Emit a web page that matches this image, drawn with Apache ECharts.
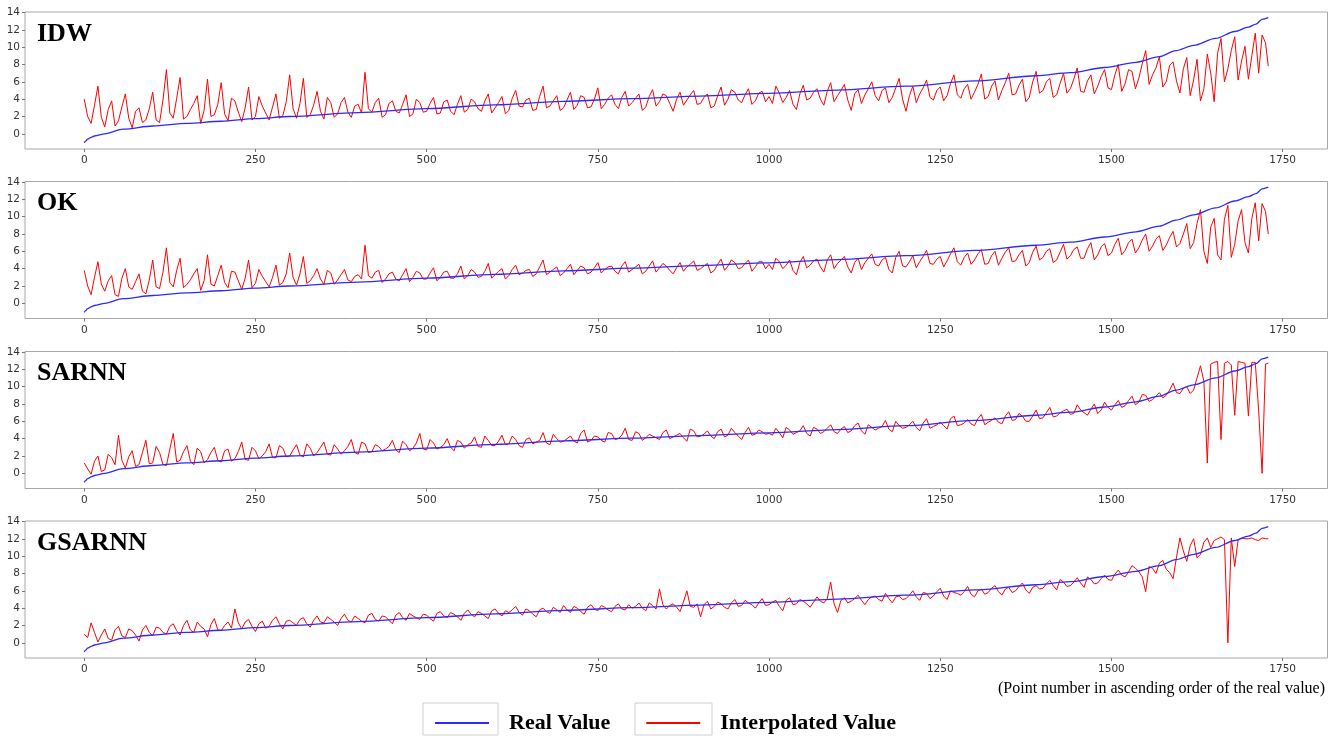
<!DOCTYPE html>
<html>
<head>
<meta charset="utf-8">
<script src="https://cdn.jsdelivr.net/npm/echarts@6/dist/echarts.min.js"></script>
<style>
html,body{margin:0;padding:0;background:#fff;}
#chart{width:1337px;height:738px;}
</style>
</head>
<body>
<div id="chart"></div>
<script>
// ---------- DATA ----------
const panelNames = ['IDW', 'OK', 'SARNN', 'GSARNN'];
const xTicks = [0, 250, 500, 750, 1000, 1250, 1500, 1750];
const yTicks = [0, 2, 4, 6, 8, 10, 12, 14];

// real value curve (sorted ascending), point number -> value
const realX   = [0, 2, 5, 10, 15, 30, 57, 100, 150, 200, 250, 300, 400, 500, 600, 700, 800, 900, 1000, 1100, 1200, 1300, 1390, 1440, 1490, 1536, 1570, 1594, 1620, 1652, 1680, 1700, 1711, 1720, 1729];
const realVal = [-1.05, -0.85, -0.6, -0.4, -0.25, 0.0, 0.55, 0.9, 1.2, 1.45, 1.75, 2.0, 2.45, 2.9, 3.35, 3.75, 4.05, 4.35, 4.67, 5.05, 5.5, 6.1, 6.7, 7.05, 7.65, 8.25, 8.9, 9.6, 10.2, 11.0, 11.8, 12.3, 12.65, 13.2, 13.4];

// interpolated values read at points 0,10,20,...,1720 and 1729
const idwVal = [
 4.0, 1.2, 5.5, 0.8, 3.8, 1.5, 4.6, 0.7, 3.0, 1.6,
 4.8, 1.3, 7.4, 1.8, 6.5, 2.0, 3.5, 1.2, 6.3, 2.2,
 5.9, 1.5, 3.8, 1.4, 5.4, 2.0, 3.2, 1.6, 4.6, 2.1,
 6.8, 1.8, 6.4, 2.2, 4.9, 1.7, 3.6, 2.3, 4.2, 1.9,
 3.4, 7.1, 2.5, 4.1, 2.2, 3.8, 2.4, 4.5, 2.3, 3.6,
 2.6, 4.2, 2.4, 3.9, 2.2, 4.4, 2.8, 3.7, 2.6, 4.6,
 3.0, 4.3, 2.7, 5.0, 3.1, 4.1, 2.8, 5.5, 3.2, 4.4,
 3.0, 4.8, 3.3, 4.2, 3.1, 5.3, 3.4, 4.5, 2.9, 4.9,
 3.6, 4.6, 3.1, 5.1, 3.7, 4.4, 2.6, 4.8, 3.9, 5.0,
 3.5, 4.6, 3.2, 5.4, 4.0, 4.8, 3.6, 5.2, 3.8, 4.9,
 4.3, 5.5, 3.6, 5.0, 2.8, 5.6, 4.1, 5.2, 3.3, 5.9,
 4.4, 5.7, 2.7, 5.1, 4.5, 6.0, 3.8, 5.3, 4.2, 6.4,
 2.6, 5.5, 4.6, 6.2, 3.9, 5.4, 4.4, 6.8, 4.1, 5.7,
 4.8, 6.9, 4.3, 6.1, 5.0, 7.0, 4.6, 6.3, 4.2, 7.2,
 5.0, 6.4, 4.5, 7.0, 5.2, 7.6, 4.8, 6.8, 5.5, 7.4,
 5.1, 8.0, 5.8, 7.2, 6.4, 9.6, 6.8, 8.9, 6.0, 8.3,
 4.7, 8.8, 6.2, 3.8, 9.2, 3.7, 11.0, 7.5, 11.2, 8.4,
 6.3, 11.6, 11.4, 7.8
];
// interpolated values read at points 5,15,25,...,1725
const idwMid = [
 2.0, 3.3, 1.9, 2.8, 0.9, 3.1, 1.8, 2.6, 1.3, 2.9,
 1.6, 3.9, 2.4, 4.1, 1.7, 2.8, 4.4, 2.7, 2.0, 3.4,
 2.3, 4.1, 2.5, 3.0, 1.6, 4.3, 2.4, 3.1, 1.8, 3.7,
 2.9, 3.5, 1.9, 3.3, 2.6, 4.2, 1.9, 3.6, 2.5, 3.2,
 2.4, 2.9, 3.6, 1.9, 3.5, 2.6, 3.4, 2.0, 4.0, 2.5,
 3.5, 2.3, 3.7, 2.6, 3.4, 2.5, 4.0, 2.9, 3.8, 2.4,
 3.6, 2.3, 4.1, 3.2, 3.9, 2.7, 4.3, 3.0, 3.8, 2.7,
 3.9, 2.8, 4.4, 3.0, 4.0, 2.9, 4.1, 3.4, 4.2, 3.2,
 4.1, 2.7, 4.3, 3.2, 4.6, 3.5, 4.0, 3.3, 4.5, 3.4,
 4.2, 3.0, 4.4, 3.3, 5.1, 3.9, 4.5, 3.4, 4.7, 3.7,
 3.5, 4.7, 4.2, 3.4, 4.6, 3.9, 4.8, 4.0, 4.9, 3.7,
 5.0, 3.9, 4.6, 3.5, 5.2, 4.4, 5.0, 3.6, 5.3, 4.0,
 4.4, 3.6, 5.3, 4.2, 5.0, 3.8, 5.8, 4.5, 5.2, 4.0,
 5.7, 4.0, 5.5, 3.9, 5.9, 4.5, 5.6, 3.7, 6.0, 4.7,
 6.0, 4.2, 5.8, 4.7, 6.3, 4.9, 6.1, 4.6, 6.6, 5.3,
 6.8, 4.9, 7.4, 5.2, 8.1, 5.7, 7.6, 5.4, 7.9, 6.1,
 7.5, 4.4, 8.6, 5.2, 7.0, 9.3, 6.0, 9.6, 6.2, 10.1,
 9.0, 7.0, 10.5
];
const okVal = [
 3.8, 1.0, 4.8, 1.4, 3.2, 0.8, 4.0, 1.6, 3.4, 1.1,
 5.0, 1.7, 6.4, 1.9, 5.2, 2.2, 3.4, 1.5, 5.6, 2.0,
 4.4, 1.8, 3.6, 1.6, 5.0, 2.3, 3.1, 1.9, 4.4, 2.4,
 5.8, 2.1, 5.4, 2.6, 4.0, 2.2, 3.5, 2.7, 3.9, 2.5,
 3.3, 6.7, 2.9, 3.8, 2.8, 3.6, 2.6, 4.0, 3.0, 3.5,
 2.8, 4.1, 3.0, 3.7, 2.9, 4.3, 3.2, 3.6, 3.1, 4.6,
 3.3, 4.0, 3.2, 4.4, 3.5, 3.9, 3.4, 5.0, 3.6, 4.2,
 3.5, 4.5, 3.8, 4.1, 3.6, 4.7, 3.9, 4.3, 3.4, 4.8,
 3.9, 4.5, 3.7, 4.9, 4.1, 4.3, 3.4, 4.7, 4.2, 4.9,
 4.0, 4.6, 3.8, 5.1, 4.3, 4.7, 4.1, 5.0, 4.2, 4.8,
 4.5, 5.2, 4.0, 5.0, 3.3, 5.4, 4.4, 5.1, 3.6, 5.6,
 4.6, 5.4, 3.5, 5.2, 4.7, 5.7, 4.3, 5.3, 3.5, 6.0,
 4.2, 5.5, 4.8, 6.1, 4.5, 5.4, 4.9, 6.4, 4.4, 5.8,
 5.0, 6.2, 4.6, 6.0, 5.2, 6.4, 4.9, 6.1, 4.7, 6.6,
 5.3, 6.3, 5.0, 6.8, 5.5, 6.5, 5.2, 7.0, 5.6, 6.9,
 5.8, 7.5, 6.1, 7.4, 6.4, 8.0, 6.6, 7.8, 6.7, 8.3,
 6.9, 9.2, 7.0, 10.8, 4.6, 9.8, 5.0, 11.3, 6.8, 10.8,
 5.8, 11.6, 11.5, 8.0
];
const okMid = [
 2.0, 3.0, 2.2, 2.6, 1.0, 2.9, 1.9, 2.5, 1.4, 2.7,
 1.9, 3.6, 2.4, 3.8, 1.8, 2.7, 4.0, 2.6, 2.2, 3.2,
 2.4, 3.7, 2.6, 2.9, 1.8, 3.9, 2.5, 3.0, 2.1, 3.4,
 3.0, 3.4, 2.3, 3.2, 2.8, 3.8, 2.2, 3.3, 2.7, 3.1,
 2.8, 3.2, 3.6, 2.4, 3.4, 2.8, 3.3, 2.5, 3.7, 2.8,
 3.5, 2.6, 3.6, 2.9, 3.4, 2.8, 3.9, 3.0, 3.7, 2.9,
 3.7, 2.8, 3.9, 3.3, 3.8, 3.1, 4.2, 3.3, 3.9, 3.2,
 4.0, 3.3, 4.3, 3.4, 4.1, 3.5, 4.2, 3.7, 4.3, 3.6,
 4.2, 3.4, 4.3, 3.6, 4.6, 3.8, 4.1, 3.7, 4.5, 3.8,
 4.3, 3.5, 4.5, 3.8, 5.0, 4.0, 4.6, 3.7, 4.8, 4.0,
 3.9, 4.8, 4.4, 3.8, 4.7, 4.1, 4.9, 4.2, 5.0, 4.0,
 5.0, 4.2, 4.7, 3.9, 5.2, 4.5, 5.0, 3.9, 5.3, 4.3,
 4.8, 4.1, 5.4, 4.6, 5.1, 4.2, 5.7, 4.8, 5.3, 4.5,
 5.7, 4.5, 5.5, 4.4, 5.9, 4.8, 5.6, 4.3, 5.9, 5.0,
 6.0, 4.7, 5.9, 5.1, 6.2, 5.2, 6.3, 5.0, 6.5, 5.5,
 6.8, 5.6, 7.0, 5.8, 7.3, 6.0, 7.4, 6.1, 7.6, 6.5,
 8.0, 6.3, 9.2, 6.0, 8.8, 5.6, 9.7, 5.3, 9.5, 7.0,
 9.8, 7.2, 10.6
];
const sarnnVal = [
 1.2, -0.1, 2.0, 0.4, 1.8, 4.4, 0.6, 2.6, 1.0, 3.8,
 1.2, 2.4, 0.9, 4.6, 1.5, 3.2, 1.0, 2.5, 1.6, 3.0,
 1.3, 2.8, 1.7, 3.6, 1.5, 2.6, 2.0, 3.4, 1.8, 2.9,
 2.0, 3.3, 1.9, 2.9, 2.4, 3.6, 2.1, 2.8, 2.6, 3.9,
 2.2, 3.4, 2.5, 3.1, 2.8, 3.8, 2.4, 3.3, 2.9, 4.6,
 2.7, 3.5, 3.0, 4.0, 2.6, 3.6, 3.3, 4.2, 3.0, 3.8,
 3.2, 4.4, 3.4, 3.9, 3.0, 4.1, 3.6, 4.7, 3.3, 4.0,
 3.7, 4.3, 3.5, 5.0, 3.8, 4.2, 3.6, 4.6, 4.0, 5.2,
 3.8, 4.6, 4.1, 4.3, 3.9, 5.0, 4.2, 4.6, 3.7, 4.9,
 4.3, 4.9, 4.0, 5.1, 4.4, 4.7, 3.9, 5.3, 4.5, 4.8,
 4.6, 5.2, 4.1, 5.0, 4.7, 5.5, 4.3, 5.1, 4.8, 5.6,
 4.6, 5.4, 4.9, 5.8, 4.5, 5.3, 5.2, 6.1, 4.8, 5.5,
 5.3, 6.0, 4.9, 6.3, 5.4, 5.9, 5.1, 6.6, 5.6, 6.2,
 5.5, 6.8, 5.9, 6.4, 5.7, 7.1, 6.2, 6.6, 6.0, 7.3,
 6.4, 7.6, 6.6, 7.2, 6.8, 7.9, 7.0, 7.4, 6.9, 8.2,
 7.3, 8.4, 7.8, 8.9, 8.2, 9.0, 8.5, 9.3, 9.0, 10.4,
 9.2, 10.0, 9.6, 12.4, 1.2, 12.8, 3.9, 12.9, 6.7, 12.8,
 6.6, 12.8, 0.0, 12.7
];
const sarnnMid = [
 0.5, 1.4, 0.2, 2.2, 1.0, 1.5, 1.9, 0.8, 2.4, 1.1,
 3.1, 1.0, 2.8, 1.3, 2.5, 1.4, 2.9, 1.2, 2.4, 1.5,
 2.6, 1.4, 2.5, 1.6, 3.0, 1.7, 2.5, 1.8, 3.2, 1.9,
 2.7, 2.1, 3.4, 2.0, 3.0, 2.2, 3.3, 2.2, 3.1, 2.4,
 3.6, 2.4, 3.3, 2.6, 3.1, 2.7, 3.7, 2.6, 3.5, 2.8,
 3.9, 2.8, 3.3, 3.0, 3.8, 2.9, 3.5, 3.1, 4.3, 3.2,
 3.7, 3.3, 4.3, 3.2, 3.9, 3.4, 3.8, 3.5, 4.5, 3.6,
 4.0, 3.7, 4.6, 3.6, 4.3, 3.8, 4.7, 3.9, 4.4, 3.9,
 4.8, 3.8, 4.5, 4.1, 4.7, 4.0, 4.4, 4.1, 5.1, 4.2,
 4.5, 4.3, 4.8, 4.2, 5.2, 4.3, 4.7, 4.4, 5.0, 4.5,
 4.4, 4.7, 5.3, 4.5, 4.9, 4.6, 5.3, 4.6, 5.2, 4.8,
 5.1, 4.7, 5.5, 4.9, 5.6, 5.0, 5.4, 5.1, 6.0, 5.2,
 5.6, 5.3, 5.8, 5.2, 5.6, 5.5, 6.3, 5.5, 5.8, 5.7,
 6.3, 5.6, 6.1, 5.9, 6.6, 6.1, 6.9, 6.0, 6.6, 6.3,
 7.0, 6.5, 7.0, 7.4, 6.9, 7.3, 6.7, 8.0, 7.3, 7.6,
 7.9, 7.6, 8.4, 7.9, 9.1, 8.3, 8.9, 8.7, 9.6, 9.3,
 9.8, 9.2, 11.0, 10.6, 12.6, 12.9, 12.7, 12.5, 12.9, 12.7,
 12.8, 7.2, 12.6
];
const gsarnnVal = [
 1.0, 2.3, 0.1, 1.6, 0.3, 1.9, 0.6, 1.4, 0.2, 2.0,
 0.8, 1.7, 1.0, 2.2, 0.9, 2.6, 1.2, 1.9, 0.7, 2.8,
 1.4, 2.4, 3.9, 1.6, 2.7, 1.3, 2.5, 1.9, 3.0, 1.6,
 2.6, 2.0, 2.9, 1.8, 3.1, 2.3, 2.7, 2.0, 3.3, 2.4,
 2.8, 2.3, 3.4, 2.5, 3.0, 2.2, 3.5, 2.6, 3.1, 2.7,
 3.2, 2.5, 3.6, 2.9, 3.3, 2.6, 3.8, 3.0, 3.4, 2.8,
 3.9, 3.1, 3.5, 4.2, 3.2, 3.7, 3.0, 4.0, 3.4, 3.8,
 4.3, 3.5, 4.0, 3.3, 4.4, 3.7, 4.1, 3.6, 4.5, 3.8,
 4.0, 4.6, 3.7, 4.3, 6.2, 3.9, 4.5, 3.6, 6.0, 4.1,
 3.0, 4.8, 4.2, 4.5, 3.9, 5.0, 4.3, 4.6, 4.0, 5.1,
 4.4, 4.9, 3.7, 5.2, 4.5, 4.8, 4.1, 5.3, 4.6, 7.0,
 3.5, 5.2, 4.8, 5.5, 4.4, 5.3, 5.0, 5.7, 4.6, 5.4,
 5.1, 6.0, 4.9, 5.7, 5.4, 6.3, 5.0, 5.8, 5.5, 6.5,
 5.3, 6.2, 5.8, 6.6, 5.5, 6.4, 6.0, 6.9, 5.7, 6.6,
 6.3, 7.2, 6.1, 7.0, 6.6, 7.5, 6.4, 7.3, 6.9, 7.8,
 7.2, 8.4, 7.6, 8.9, 8.2, 5.9, 8.6, 9.2, 8.5, 7.4,
 12.1, 9.4, 12.0, 10.2, 12.1, 11.8, 12.2, 0.0, 8.8, 12.1,
 12.0, 11.9, 12.1, 12.0
];
const gsarnnMid = [
 0.6, 1.2, 0.9, 0.5, 1.5, 0.8, 1.6, 0.9, 1.5, 1.2,
 1.8, 1.2, 1.9, 1.4, 2.0, 1.5, 2.4, 1.6, 2.1, 1.5,
 2.0, 1.7, 2.3, 2.4, 1.9, 2.2, 1.7, 2.6, 2.2, 2.5,
 2.3, 2.7, 2.2, 2.6, 2.4, 3.0, 2.4, 2.8, 2.6, 3.1,
 2.5, 3.2, 2.7, 3.1, 2.6, 3.2, 2.9, 3.4, 2.9, 3.3,
 2.8, 3.4, 3.1, 3.5, 3.0, 3.4, 3.3, 3.6, 3.1, 3.7,
 3.4, 3.7, 3.8, 3.5, 3.9, 3.3, 3.8, 3.6, 4.1, 3.5,
 3.8, 4.2, 3.6, 4.1, 3.9, 4.3, 3.8, 4.2, 3.9, 4.4,
 4.2, 4.0, 4.6, 3.9, 4.4, 4.3, 4.1, 4.7, 4.2, 4.5,
 4.4, 3.9, 4.7, 4.1, 4.6, 4.2, 4.9, 4.4, 4.6, 4.3,
 4.7, 4.2, 4.9, 4.4, 5.0, 4.5, 4.7, 4.8, 5.1, 4.5,
 4.9, 4.6, 5.1, 4.9, 5.0, 5.4, 4.8, 5.1, 5.3, 5.0,
 5.5, 5.3, 5.8, 5.1, 5.9, 5.4, 6.0, 5.7, 5.9, 5.6,
 6.0, 5.6, 6.3, 5.9, 6.2, 5.8, 6.5, 6.1, 6.4, 6.2,
 6.8, 6.6, 7.3, 6.5, 7.0, 6.9, 7.6, 6.8, 7.4, 7.3,
 7.9, 7.8, 8.2, 8.6, 7.6, 8.8, 8.0, 9.5, 8.1, 9.9,
 10.6, 11.2, 9.8, 11.6, 11.0, 12.0, 11.9, 12.1, 11.9, 12.0,
 12.1, 11.8, 12.0
];
const panelValues = [idwVal, okVal, sarnnVal, gsarnnVal];
const panelMids = [idwMid, okMid, sarnnMid, gsarnnMid];

// point numbers at which the values above were read
const pointNo = [];
for (let i = 0; i < 173; i++) pointNo.push(i * 10);
pointNo.push(1729);
const midNo = [];
for (let i = 0; i < 173; i++) midNo.push(i * 10 + 5);

function buildRed(vals, mids) {
  const pts = vals.map((v, k) => [pointNo[k], v]).concat(mids.map((v, k) => [midNo[k], v]));
  pts.sort((a, b) => a[0] - b[0]);
  return pts;
}

// ---------- CHART ----------
const chart = echarts.init(document.getElementById('chart'), null, {renderer: 'canvas'});
const tops = [12, 181.5, 351.5, 521];
const gridH = 137;
const grids = [], xAxes = [], yAxes = [], series = [], titles = [];

tops.forEach((t, i) => {
  grids.push({left: 25, right: 9.5, top: t, height: gridH, show: true,
              borderColor: '#a8a8a8', borderWidth: 1, backgroundColor: 'transparent'});
  xAxes.push({
    type: 'value', gridIndex: i, min: -86.5, max: 1815.5,
    axisLine: {show: false, onZero: false},
    splitLine: {show: false},
    axisTick: {show: true, length: 3, lineStyle: {color: '#777'}, customValues: xTicks},
    axisLabel: {customValues: xTicks, fontSize: 10.5, color: '#333', margin: 6,
                fontFamily: 'DejaVu Sans', formatter: v => String(v)}
  });
  yAxes.push({
    type: 'value', gridIndex: i, min: -1.75, max: 14.05,
    axisLine: {show: false, onZero: false},
    splitLine: {show: false},
    axisTick: {show: true, length: 3, lineStyle: {color: '#777'}, customValues: yTicks},
    axisLabel: {customValues: yTicks, fontSize: 10.5, color: '#333', margin: 5,
                fontFamily: 'DejaVu Sans', formatter: v => String(v)}
  });
  series.push({
    name: 'Interpolated Value', type: 'line', xAxisIndex: i, yAxisIndex: i,
    data: buildRed(panelValues[i], panelMids[i]),
    showSymbol: false, symbol: 'none',
    lineStyle: {color: '#ff0000', width: 1},
    itemStyle: {color: '#ff0000'},
    animation: false, z: 2
  });
  series.push({
    name: 'Real Value', type: 'line', xAxisIndex: i, yAxisIndex: i,
    data: realX.map((x, k) => [x, realVal[k]]),
    showSymbol: false, symbol: 'none', smooth: 0.3, smoothMonotone: 'x',
    lineStyle: {color: '#2a2aff', width: 1.3},
    itemStyle: {color: '#2a2aff'},
    animation: false, z: 3
  });
  titles.push({
    text: panelNames[i], left: 37, top: t + 9, padding: 0,
    textStyle: {fontFamily: 'Liberation Serif', fontWeight: 'bold', fontSize: 26, color: '#000'}
  });
});

chart.setOption({
  animation: false,
  backgroundColor: '#fff',
  title: titles,
  grid: grids,
  xAxis: xAxes,
  yAxis: yAxes,
  series: series,
  legend: {
    data: ['Real Value', 'Interpolated Value'],
    left: 430, top: 707,
    itemWidth: 54, itemHeight: 2, icon: 'rect',
    itemGap: 36,
    selectedMode: false,
    textStyle: {fontFamily: 'Liberation Serif', fontWeight: 'bold', fontSize: 22, color: '#000',
                padding: [0, 0, 0, 15]}
  },
  graphic: [
    {type: 'rect', shape: {x: 423, y: 703, width: 75, height: 32},
     style: {fill: 'none', stroke: '#cfcfcf', lineWidth: 1}},
    {type: 'rect', shape: {x: 635, y: 703, width: 77, height: 32},
     style: {fill: 'none', stroke: '#cfcfcf', lineWidth: 1}},
    {type: 'text', right: 12, top: 681,
     style: {text: '(Point number in ascending order of the real value)',
             font: '16px "Liberation Serif"', fill: '#000'}}
  ]
});
</script>
</body>
</html>
